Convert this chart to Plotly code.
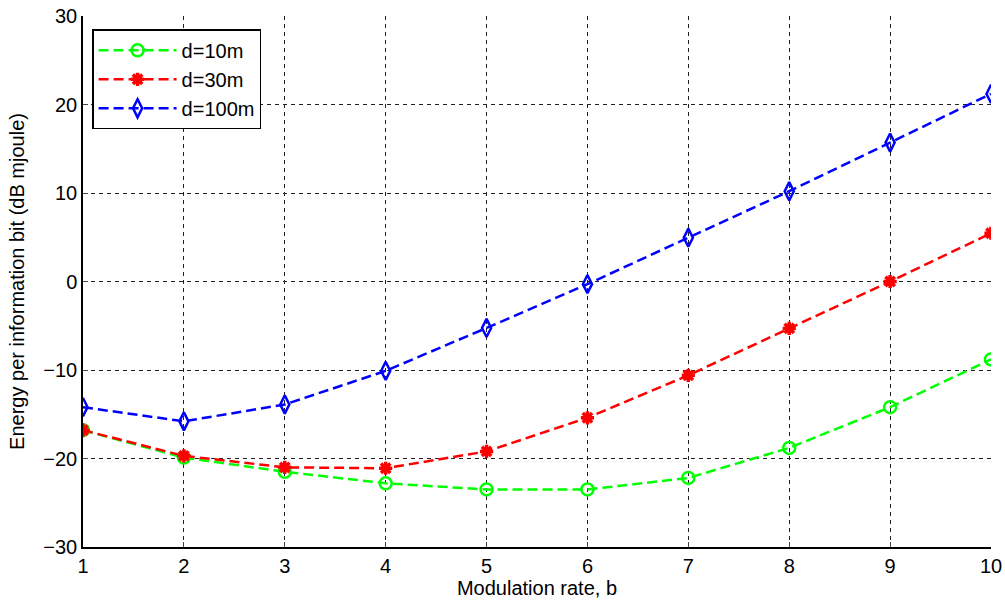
import plotly.graph_objects as go

b = [1, 2, 3, 4, 5, 6, 7, 8, 9, 10]
d10 = [-16.8, -19.9, -21.5, -22.8, -23.5, -23.5, -22.2, -18.8, -14.2, -8.8]
d30 = [-16.8, -19.7, -21.0, -21.1, -19.2, -15.4, -10.6, -5.3, 0.0, 5.45]
d100 = [-14.2, -15.8, -13.9, -10.1, -5.25, -0.3, 4.95, 10.2, 15.7, 21.2]
names = ["d=10m", "d=30m", "d=100m"]
colors = ["#00ff00", "#ff0000", "#0000ff"]
symbols = ["circle-open", "asterisk-open", "diamond-tall-open"]
sizes = [12, 11, 13]

fig = go.Figure()
for ys, nm, c, s, sz in zip([d10, d30, d100], names, colors, symbols, sizes):
    fig.add_trace(go.Scatter(
        x=b, y=ys, name=nm, mode="lines+markers",
        line=dict(color=c, width=2.5, dash="10px,5px"),
        marker=dict(symbol=s, size=sz, color=c,
                    line=dict(color=c, width=2.5 if s != "asterisk-open" else 3.5)),
    ))

font = "Liberation Sans, Arial, sans-serif"
fig.update_layout(
    width=1005, height=610,
    margin=dict(l=83, r=14, t=16, b=63),
    paper_bgcolor="white", plot_bgcolor="white",
    font=dict(family=font, size=20, color="black"),
    showlegend=True,
    legend=dict(x=0.01, y=0.975, xanchor="left", yanchor="top",
                bordercolor="black", borderwidth=1.5, bgcolor="white",
                font=dict(size=20, family=font), itemwidth=78,
                entrywidth=186, entrywidthmode="pixels",
                tracegroupgap=2),
    xaxis=dict(range=[1, 10], tickvals=b, ticks="inside", ticklen=5,
               showline=True, linecolor="black", linewidth=1.5,
               showgrid=True, gridcolor="#222222", griddash="4px,4px", gridwidth=1.2,
               zeroline=False, tickfont=dict(size=20), automargin=False,
               ticklabeloverflow="allow",
               title=dict(text="Modulation rate, b", font=dict(size=20), standoff=4)),
    yaxis=dict(range=[-30, 30], tickvals=[-30, -20, -10, 0, 10, 20, 30],
               ticks="inside", ticklen=5,
               showline=True, linecolor="black", linewidth=1.5,
               showgrid=True, gridcolor="#222222", griddash="4px,4px", gridwidth=1.2,
               zeroline=False, tickfont=dict(size=20), automargin=False,
               ticklabeloverflow="allow",
               title=dict(text="Energy per information bit (dB mjoule)", font=dict(size=20), standoff=13)),
)

fig.write_html("out.html", config={"displayModeBar": False},
               post_script="document.body.style.margin='0px';document.body.style.overflow='hidden';")
